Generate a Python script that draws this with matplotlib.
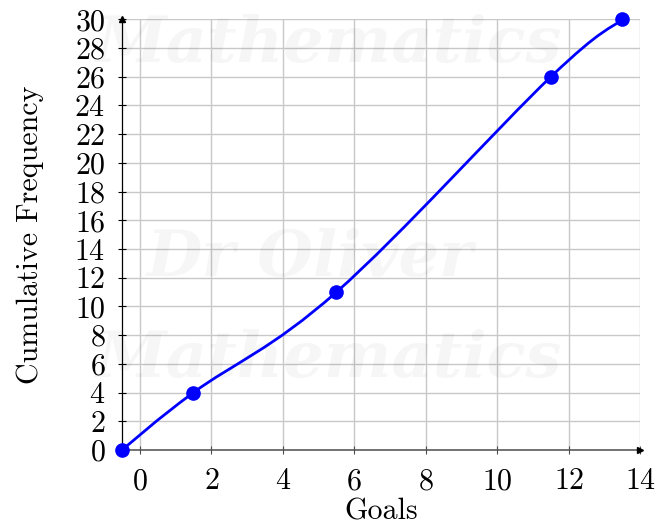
import numpy as np
import matplotlib
matplotlib.use("Agg")
import matplotlib.pyplot as plt
from matplotlib.path import Path
from matplotlib.patches import PathPatch

# Cumulative frequency of goals (upper class boundaries)
goals = [-0.5, 1.5, 5.5, 11.5, 13.5]
cum_freq = [0, 4, 11, 26, 30]
x_ticks = [0, 2, 4, 6, 8, 10, 12, 14]
y_ticks = list(range(0, 31, 2))

plt.rcParams["font.family"] = ["cmr10", "DejaVu Serif"]
plt.rcParams["axes.formatter.use_mathtext"] = True

FS = 21.6

fig = plt.figure(figsize=(6.59, 5.29), dpi=100)
ax = fig.add_axes([0.1851, 0.1494, 0.9716 - 0.1851, 0.9635 - 0.1494])

ax.set_xlim(-0.5, 14)
ax.set_ylim(0, 30)

# light grid
ax.set_xticks(x_ticks)
ax.set_yticks(y_ticks)
ax.grid(True, color="#c8c8c8", linewidth=1.0, zorder=0)
ax.set_axisbelow(True)

for s in ("top", "right"):
    ax.spines[s].set_visible(False)
ax.spines["left"].set_color("black")
ax.spines["left"].set_linewidth(0.9)
ax.spines["bottom"].set_color("#4d4d4d")
ax.spines["bottom"].set_linewidth(1.1)

ax.tick_params(axis="y", direction="inout", length=6, width=0.8, color="black",
               labelsize=FS, pad=9)
ax.tick_params(axis="x", direction="inout", length=6, width=0.8, color="#4d4d4d",
               labelsize=FS, pad=10)

# arrow heads on the axes
ax.plot(1, 0, marker=">", color="black", markersize=5, transform=ax.transAxes,
        clip_on=False, zorder=5)
ax.plot(0, 1, marker="^", color="black", markersize=5, transform=ax.transAxes,
        clip_on=False, zorder=5)

ax.set_xlabel("Goals", fontsize=FS, labelpad=2)
ax.set_ylabel("Cumulative Frequency", fontsize=FS, labelpad=22)

# smooth curve through the points (cubic Bezier, tension 0.55)
pts = np.column_stack([goals, cum_freq]).astype(float)
k = 0.55 / 3.0
verts = [pts[0]]
codes = [Path.MOVETO]
n = len(pts)
for i in range(n - 1):
    p_prev = pts[i - 1] if i > 0 else pts[i]
    p_next2 = pts[i + 2] if i + 2 < n else pts[i + 1]
    c1 = pts[i] + k * (pts[i + 1] - p_prev)
    c2 = pts[i + 1] - k * (p_next2 - pts[i])
    verts += [c1, c2, pts[i + 1]]
    codes += [Path.CURVE4] * 3
curve = PathPatch(Path(verts, codes), facecolor="none", edgecolor="#0000ff",
                  linewidth=2.0, zorder=3, clip_on=False)
ax.add_patch(curve)
ax.plot(goals, cum_freq, "o", color="#0000ff", markersize=9.5, zorder=4,
        clip_on=False)

# faint watermark
wm = dict(fontsize=46, color="#000000", alpha=0.035, style="italic",
          fontweight="bold", family="DejaVu Serif", ha="center", va="center",
          zorder=10)
fig.text(0.50, 0.915, "Mathematics", **wm)
fig.text(0.47, 0.51, "Dr Oliver", **wm)
fig.text(0.50, 0.32, "Mathematics", **wm)

fig.savefig("out.png", dpi=100)
